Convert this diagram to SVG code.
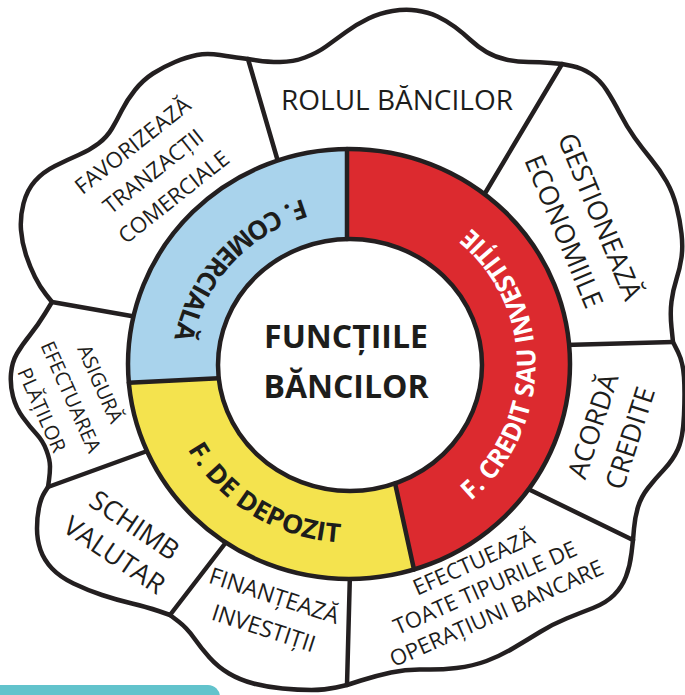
<svg xmlns="http://www.w3.org/2000/svg" width="685" height="695" viewBox="0 0 685 695">
<style>
.ol{fill:none;stroke:#231f20;stroke-width:4.5;stroke-linejoin:round;stroke-linecap:round}
.lbl{font-family:"Open Sans","Noto Sans",sans-serif;font-weight:400;fill:#1d1d1b;text-anchor:middle}
.ring{font-family:"Open Sans","Noto Sans",sans-serif;font-weight:700;font-size:26px;text-anchor:middle}
.ctr{font-family:"Open Sans","Noto Sans",sans-serif;font-weight:700;font-size:32px;fill:#1d1d1b;text-anchor:middle}
</style>
<defs>
<path id="arcBlue" d="M471.5,229 A186,180 0 0 0 227.5,500"/>
<path id="arcYellow" d="M193.5,266.5 A186,180 0 0 0 505.5,462.5"/>
<path id="arcRed" d="M349.5,544.5 A186,180 0 0 0 349.5,184.5"/>
</defs>
<rect width="685" height="695" fill="#ffffff"/>
<rect x="-20" y="685" width="240" height="30" rx="12" fill="#62c3cc"/>

<g id="connectors">
<path class="ol" fill="#ffffff" d="M248,59 L257.5,60.5 Q267,62 280,62 Q293,62 305,57.5 Q317,53 326,46.5 Q335,40 346,32 Q357,24 368.5,18.5 Q380,13 392.5,11 Q405,9 416.5,10.5 Q428,12 437.5,16.5 Q447,21 455,27 Q463,33 470.5,40 Q478,47 486.5,52 Q495,57 506,59.5 Q517,62 528.5,62 Q540,62 551,63 L562,64 L572,66 Q582,68 591,74 Q600,80 606.5,90 Q613,100 620,113.5 Q627,127 634.5,137.5 Q642,148 651,159 Q660,170 666.5,181.5 Q673,193 676.5,206.5 Q680,220 681.5,233.5 Q683,247 681.5,257.5 Q680,268 676.5,279 Q673,290 671.5,301.5 Q670,313 671.5,327.5 L673,342 L678,352 Q683,362 684,377 Q685,392 684,415 Q683,438 678,449 Q673,460 664,469.5 Q655,479 648,488 Q641,497 638,507 Q635,517 634,528.5 L633,540 L631.5,553 Q630,566 626,576.5 Q622,587 614,595 Q606,603 593,608 Q580,613 566.5,618.5 Q553,624 540,632 Q527,640 513.5,648 Q500,656 486.5,661 Q473,666 456.5,668 Q440,670 423.5,669.5 Q407,669 391,672.5 Q375,676 361,680.5 L347,685 L336,687.5 Q325,690 311.5,690 Q298,690 282.5,688.5 Q267,687 253.5,683.5 Q240,680 229,673.5 Q218,667 209.5,657.5 Q201,648 194,638 Q187,628 178.5,621.5 L170,615 L158.5,611 Q147,607 132,603.5 Q117,600 102,595 Q87,590 73.5,583.5 Q60,577 52,568.5 Q44,560 40.5,550 Q37,540 37,528.5 Q37,517 39,507.5 Q41,498 44.5,492.5 L48,487 L49,480 Q50,473 50,466.5 Q50,460 46.5,450.5 Q43,441 36.5,434 Q30,427 23,417.5 Q16,408 13,396.5 Q10,385 11,373.5 Q12,362 17,353.5 Q22,345 30,335 Q38,325 45,313.5 L52,302 L46,294.5 Q40,287 35,277 Q30,267 26,255 Q22,243 21,230 Q20,217 23.5,203.5 Q27,190 35,181 Q43,172 55,166 Q67,160 78.5,155 Q90,150 98.5,143.5 Q107,137 112,128.5 Q117,120 122,110 Q127,100 135,90 Q143,80 153,73.5 Q163,67 175,62 Q187,57 197,55 Q207,53 220,55 Q233,57 240.5,58 Z"/>
<line class="ol" x1="248" y1="59" x2="279" y2="165"/>
<line class="ol" x1="562" y1="64" x2="484" y2="195"/>
<line class="ol" x1="673" y1="342" x2="565" y2="345"/>
<line class="ol" x1="633" y1="540" x2="522" y2="486"/>
<line class="ol" x1="347" y1="685" x2="350" y2="572"/>
<line class="ol" x1="170" y1="615" x2="227" y2="541"/>
<line class="ol" x1="48" y1="487" x2="150" y2="450"/>
<line class="ol" x1="52" y1="302" x2="137" y2="317"/>
</g>

<g id="ring">
<path d="M347,149 A221,215 0 0 0 128.8,382.7 L218.7,378.2 A132,126 0 0 1 347,239 Z" fill="#a9d3ec"/>
<path d="M128.8,382.7 A221,215 0 0 0 414,569.6 L395.1,483.4 A132,126 0 0 1 218.7,378.2 Z" fill="#f4e34e"/>
<path d="M414,569.6 A221,215 0 0 0 347,149 L347,239 A132,126 0 0 1 395.1,483.4 Z" fill="#dc2a2f"/>
<ellipse class="ol" cx="349" cy="364" rx="221" ry="215"/>
<ellipse class="ol" cx="350" cy="365" rx="132" ry="126" fill="#ffffff"/>
<line class="ol" x1="347" y1="149" x2="347" y2="239"/>
<line class="ol" x1="128.8" y1="382.7" x2="218.7" y2="378.2"/>
<line class="ol" x1="414" y1="569.6" x2="395.1" y2="483.4"/>
</g>

<g id="f-comerciala"><text class="ring" fill="#1d1d1b"><textPath href="#arcBlue" startOffset="50%" textLength="200" lengthAdjust="spacingAndGlyphs">F. COMERCIALĂ</textPath></text></g>
<g id="f-depozit"><text class="ring" fill="#1d1d1b"><textPath href="#arcYellow" startOffset="50%" textLength="186" lengthAdjust="spacingAndGlyphs">F. DE DEPOZIT</textPath></text></g>
<g id="f-credit"><text class="ring" fill="#ffffff"><textPath href="#arcRed" startOffset="50%" textLength="312" lengthAdjust="spacingAndGlyphs">F. CREDIT SAU INVESTIȚIE</textPath></text></g>

<g id="center"><text class="ctr" x="346" y="348">FUNCȚIILE</text><text class="ctr" x="346" y="398">BĂNCILOR</text></g>

<g id="rolul"><text class="lbl" x="397" y="110" font-size="28">ROLUL BĂNCILOR</text></g>

<g id="favorizeaza" transform="translate(153,171) rotate(-38.5)"><text class="lbl" font-size="22" y="-25">FAVORIZEAZĂ</text><text class="lbl" font-size="22" y="8">TRANZACȚII</text><text class="lbl" font-size="22" y="41">COMERCIALE</text></g>

<g id="gestioneaza" transform="translate(582,224) rotate(67.5)"><text class="lbl" font-size="27" y="-10">GESTIONEAZĂ</text><text class="lbl" font-size="27" y="29">ECONOMIILE</text></g>

<g id="acorda" transform="translate(611.5,432) rotate(-72)"><text class="lbl" font-size="27" y="-10">ACORDĂ</text><text class="lbl" font-size="27" y="29">CREDITE</text></g>

<g id="efectueaza" transform="translate(485,587.5) rotate(-24)"><text class="lbl" font-size="22" y="-20">EFECTUEAZĂ</text><text class="lbl" font-size="22" y="8">TOATE TIPURILE DE</text><text class="lbl" font-size="22" y="36">OPERAȚIUNI BANCARE</text></g>

<g id="finanteaza" transform="translate(269,612) rotate(18)"><text class="lbl" font-size="23" y="-9">FINANȚEAZĂ</text><text class="lbl" font-size="23" y="25">INVESTIȚII</text></g>

<g id="schimb" transform="translate(124.5,540) rotate(34)"><text class="lbl" font-size="27" y="-8.4">SCHIMB</text><text class="lbl" font-size="27" y="27.6">VALUTAR</text></g>

<g id="asigura" transform="translate(71,397) rotate(66)"><text class="lbl" font-size="20" y="-25">ASIGURĂ</text><text class="lbl" font-size="20" y="7">EFECTUAREA</text><text class="lbl" font-size="20" y="39">PLĂȚILOR</text></g>
</svg>
